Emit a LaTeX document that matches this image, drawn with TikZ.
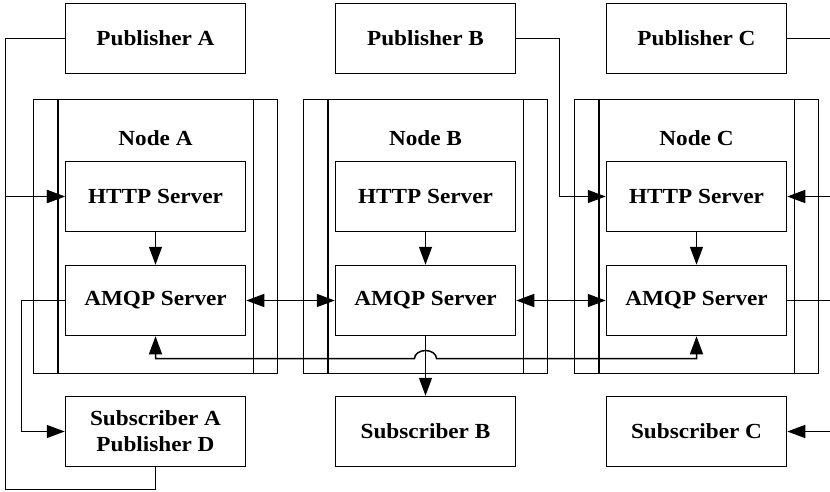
\documentclass[tikz,border=0pt]{standalone}
\usepackage{fontspec}
\setmainfont{Liberation Serif}[FakeStretch=1.08]
\usetikzlibrary{arrows.meta}

\begin{document}
\begin{tikzpicture}[x=1pt,y=-1pt,line width=1.5pt,
  lbl/.style={font=\fontsize{21.5}{26}\selectfont\bfseries,align=center,inner sep=0pt},
  box/.style={lbl,draw,minimum width=180pt,minimum height=70pt},
  cluster/.style={draw,minimum width=244pt,minimum height=274pt,inner sep=0pt},
  tip/.tip={Triangle[length=18pt,width=13pt]},
  arr/.style={-tip},
  biarr/.style={tip-tip}]
\useasboundingbox (0,0) rectangle (830,492);

% cluster frames with their inner rails
\foreach \n/\cx in {A/155.5,B/425.5,C/696.5}{
  \node[cluster] (node\n) at (\cx,236.5) {};
  \draw ([xshift=25pt]node\n.north west) -- ([xshift=25pt]node\n.south west);
  \draw ([xshift=-25pt]node\n.north east) -- ([xshift=-25pt]node\n.south east);
}
\node[lbl] (labA) at (155.5,137.7) {Node A};
\node[lbl] (labB) at (425.5,137.7) {Node B};
\node[lbl] (labC) at (696.5,137.7) {Node C};

% publishers
\node[box] (pubA) at (155.5,38.5) {Publisher A};
\node[box] (pubB) at (425.5,38.5) {Publisher B};
\node[box] (pubC) at (696.5,38.5) {Publisher C};

% servers
\node[box] (httpA) at (155.5,196.5) {HTTP Server};
\node[box] (httpB) at (425.5,196.5) {HTTP Server};
\node[box] (httpC) at (696.5,196.5) {HTTP Server};
\node[box] (amqpA) at (155.5,300.5) {AMQP Server};
\node[box] (amqpB) at (425.5,300.5) {AMQP Server};
\node[box] (amqpC) at (696.5,300.5) {AMQP Server};

% subscribers
\node[box] (subA) at (155.5,431.5) {Subscriber A\\Publisher D};
\node[box] (subB) at (425.5,431.5) {Subscriber B};
\node[box] (subC) at (696.5,431.5) {Subscriber C};

% ends leaving the right margin
\coordinate (outPC) at (830,38.5);
\coordinate (inHC) at (830,196.5);
\coordinate (outAC) at (830,300.5);
\coordinate (inSC) at (830,431.5);

% HTTP to AMQP inside each node
\draw[arr] (httpA) -- (amqpA);
\draw[arr] (httpB) -- (amqpB);
\draw[arr] (httpC) -- (amqpC);

% links between AMQP servers
\draw[biarr] (amqpA.east) -- (amqpB.west);
\draw[biarr] (amqpB.east) -- (amqpC.west);

% publisher inputs
\draw[arr] (pubA.west) -| (5.5,196.5) -- (httpA.west);
\draw[arr] (subA.south) |- (5.5,489.5) |- (httpA.west);
\draw[arr] (pubB.east) -| (559.5,196.5) -- (httpC.west);
\draw (pubC.east) -- (outPC);
\draw[arr] (inHC) -- (httpC.east);

% subscriber outputs
\draw[arr] (amqpA.west) -- (21.5,300.5) |- (subA.west);
\draw (amqpC.east) -- (outAC);
\draw[arr] (inSC) -- (subC.east);

% bus from A to C hopping over the B output
\draw[biarr] (amqpA.south) -- (155.5,358.5) -- (414.5,358.5)
  arc[start angle=180,end angle=0,x radius=11pt,y radius=8pt]
  -- (696.5,358.5) -- (amqpC.south);
\draw[arr] (amqpB.south) -- (subB.north);
\end{tikzpicture}
\end{document}
